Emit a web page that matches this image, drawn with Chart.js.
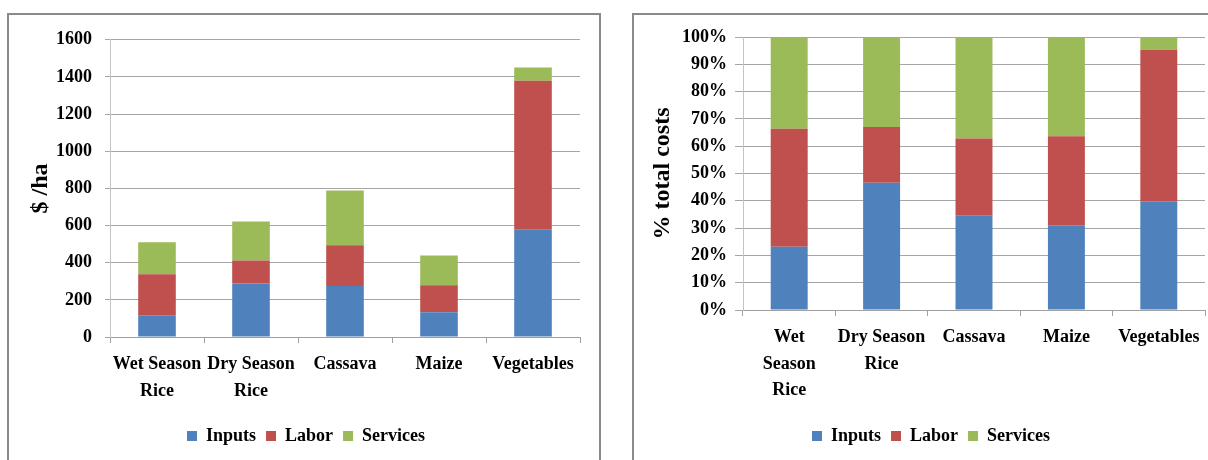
<!DOCTYPE html>
<html>
<head>
<meta charset="utf-8">
<script src="https://cdn.jsdelivr.net/npm/chart.js@4"></script>
<style>
  body { margin: 0; background: #fff; width: 1208px; height: 460px; overflow: hidden; position: relative; }
  .panel { position: absolute; top: 13px; border: 2px solid #8a8a8a; border-bottom: none; height: 460px; }
  #leftPanel { left: 7px; width: 590px; }
  #rightPanel { left: 632px; width: 600px; }
  .wrap { position: absolute; top: 16px; height: 444px; }
  #leftWrap { left: 10px; width: 587px; }
  #rightWrap { left: 635px; width: 573px; }
</style>
</head>
<body>
<div class="panel" id="leftPanel"></div>
<div class="panel" id="rightPanel"></div>
<div class="wrap" id="leftWrap"><canvas id="costChart"></canvas></div>
<div class="wrap" id="rightWrap"><canvas id="shareChart"></canvas></div>
<script>
"use strict";
// values
const crops = ["Wet Season Rice", "Dry Season Rice", "Cassava", "Maize", "Vegetables"];
const cropLabelsLeft = [["Wet Season", "Rice"], ["Dry Season", "Rice"], ["Cassava"], ["Maize"], ["Vegetables"]];
const cropLabelsRight = [["Wet", "Season", "Rice"], ["Dry Season", "Rice"], ["Cassava"], ["Maize"], ["Vegetables"]];

// $ per ha
const inputsCost = [117, 288, 274, 133, 578];
const laborCost = [221, 124, 220, 146, 802];
const servicesCost = [172, 210, 295, 160, 71];

// % of total costs
const inputsShare = [23.2, 46.6, 34.5, 31.0, 39.8];
const laborShare = [43.2, 20.4, 28.3, 32.6, 55.5];
const servicesShare = [33.6, 33.0, 37.2, 36.4, 4.7];

const costTicks = [0, 200, 400, 600, 800, 1000, 1200, 1400, 1600];
const shareTicks = [0, 10, 20, 30, 40, 50, 60, 70, 80, 90, 100];

const seriesNames = ["Inputs", "Labor", "Services"];
const seriesColors = ["#4F81BD", "#C0504D", "#9BBB59"];

Chart.defaults.font.family = "'Liberation Serif', 'Times New Roman', serif";
Chart.defaults.font.weight = "bold";
Chart.defaults.font.size = 18;
Chart.defaults.color = "#000";

// the legend sits centred on the panel, a bit right of the canvas middle
const legendNudge = {
  id: "legendNudge",
  afterLayout(chart) {
    chart.legend.left += 11;
    chart.legend.right += 11;
  }
};

function makeDatasets(values) {
  return values.map((v, i) => ({
    label: seriesNames[i],
    data: v,
    backgroundColor: seriesColors[i],
    borderWidth: 0,
    barPercentage: 0.4,
    categoryPercentage: 1.0
  }));
}

function makeChart(canvasId, labels, values, tickList, opts) {
  return new Chart(document.getElementById(canvasId), {
    type: "bar",
    data: {
      labels: labels,
      datasets: makeDatasets(values)
    },
    plugins: [legendNudge],
    options: {
      responsive: true,
      maintainAspectRatio: false,
      animation: false,
      layout: { padding: { top: 21, bottom: 5, left: 0, right: opts.padRight } },
      plugins: {
        legend: {
          position: "bottom",
          labels: { boxWidth: 10, boxHeight: 10, padding: 10, font: { size: 18, weight: "bold" } }
        },
        tooltip: { enabled: false }
      },
      scales: {
        x: {
          stacked: true,
          afterFit: (scale) => { scale.height = opts.xHeight; },
          grid: { offset: true, drawOnChartArea: false, tickLength: 6, color: "#a0a0a0" },
          border: { color: "#a0a0a0", width: 1 },
          ticks: { padding: 8, maxRotation: 0, autoSkip: false, font: { size: 18, weight: "bold", lineHeight: 1.48 } }
        },
        y: {
          stacked: true,
          min: 0,
          max: tickList[tickList.length - 1],
          afterFit: (scale) => { scale.width = opts.yWidth; },
          afterBuildTicks: (scale) => { scale.ticks = tickList.map((v) => ({ value: v })); },
          grid: { color: "#a6a6a6", tickLength: opts.tickLen, lineWidth: 1 },
          border: { color: "#c4c4c4", width: 1 },
          ticks: { padding: opts.tickPad, callback: opts.fmt },
          title: {
            display: true,
            text: opts.title,
            font: { size: 24, weight: "bold", lineHeight: 1.2 },
            padding: { top: opts.titlePad, bottom: 0 }
          }
        }
      }
    }
  });
}

const costChart = makeChart("costChart", cropLabelsLeft,
  [inputsCost, laborCost, servicesCost], costTicks,
  { padRight: 17, xHeight: 80, yWidth: 100, tickLen: 5, tickPad: 13, titlePad: 16, title: "$ /ha", fmt: (v) => v });

const shareChart = makeChart("shareChart", cropLabelsRight,
  [inputsShare, laborShare, servicesShare], shareTicks,
  { padRight: 3, xHeight: 107, yWidth: 108, tickLen: 8, tickPad: 8, titlePad: 13, title: "% total costs", fmt: (v) => v + "%" });
</script>
</body>
</html>
